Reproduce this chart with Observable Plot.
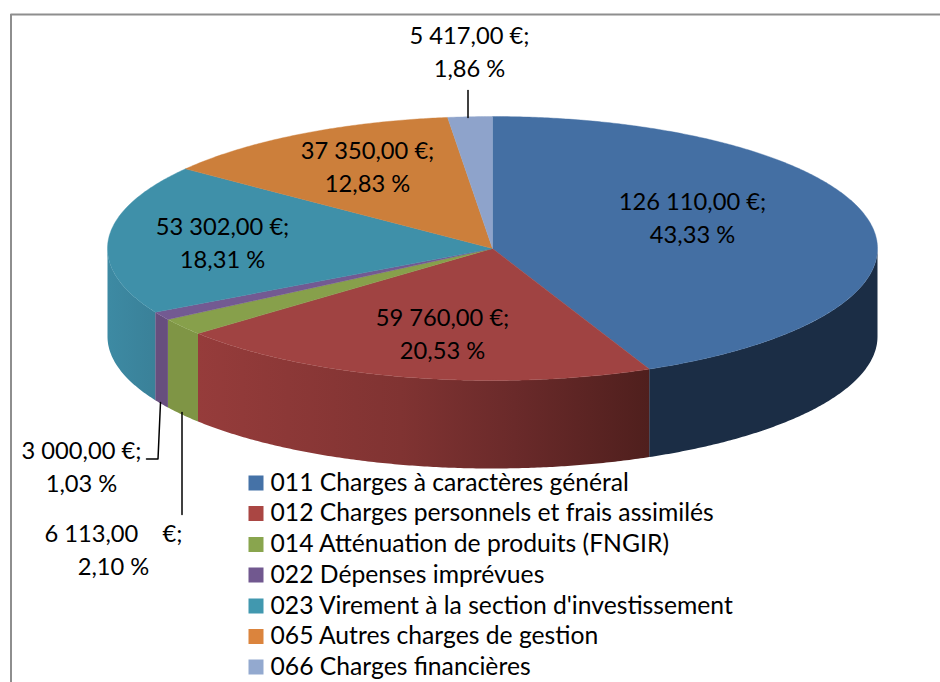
<!DOCTYPE html>
<html lang="fr">
<head>
<meta charset="utf-8">
<script src="https://cdn.jsdelivr.net/npm/d3@7"></script>
<script src="https://cdn.jsdelivr.net/npm/@observablehq/plot@0.6"></script>
<style>
  html, body { margin: 0; padding: 0; background: #fff; overflow: hidden; }
  svg { display: block; }
</style>
</head>
<body>
<div id="chart"></div>
<script>
const categories = [
  "011 Charges à caractères général",
  "012 Charges personnels et frais assimilés",
  "014 Atténuation de produits (FNGIR)",
  "022 Dépenses imprévues",
  "023 Virement à la section d'investissement",
  "065 Autres charges de gestion",
  "066 Charges financières"
];
const values = [126110, 59760, 6113, 3000, 53302, 37350, 5417];
const valueLabels = ["126 110,00 €;", "59 760,00 €;", "6 113,00    €;", "3 000,00 €;", "53 302,00 €;", "37 350,00 €;", "5 417,00 €;"];
const percentLabels = ["43,33 %", "20,53 %", "2,10 %", "1,03 %", "18,31 %", "12,83 %", "1,86 %"];

// Styling and layout, separate from the data
const topColors = ["#446FA3", "#A04342", "#87A04B", "#735A92", "#3F90A9", "#CC7F3B", "#8EA3CB"];
const swatchColors = ["#4572A7", "#AA4643", "#89A54E", "#71588F", "#4198AF", "#DB843D", "#93A9CF"];
const wallFills = ["#1B2D45", "url(#redWall)", "#7F9545", "#674E7E", "url(#tealWall)", "#A8672F", "#7485A6"];
const labelX = [692, 442, 113, 81, 222, 367, 469];
const labelY = [215.5, 331.5, 547, 464, 240, 164.5, 49];
const legendY = [482.5, 513, 544, 574.5, 605.5, 636, 666.5];
const swatchY = [483, 513.5, 544.5, 575, 606, 636.5, 667];
const cx = 492, cy = 248, rx = 385, ry = 132, depth = 88;
const FONT = "Lato, Carlito, sans-serif";
const LABEL_FS = 23.7, LEGEND_FS = 24.7;

const arcs = d3.pie().sort(null).value(d => d)(values);
const pt = (a, dy = 0) => ({x: cx + rx * Math.sin(a), y: cy - ry * Math.cos(a) + dy});
const sample = (a0, a1) => {
  const n = Math.max(2, Math.ceil((a1 - a0) / 0.008));
  return d3.range(n + 1).map(i => a0 + (a1 - a0) * i / n);
};
const topFace = arcs.map(s => [{x: cx, y: cy}, ...sample(s.startAngle, s.endAngle).map(a => pt(a)), {x: cx, y: cy}]);
const walls = arcs.map(s => {
  const a0 = Math.max(s.startAngle, Math.PI / 2), a1 = Math.min(s.endAngle, 3 * Math.PI / 2);
  if (a1 <= a0) return null;
  const as = sample(a0, a1);
  const poly = [...as.map(a => pt(a)), ...as.slice().reverse().map(a => pt(a, depth))];
  poly.push(poly[0]);
  return poly;
});

const defs = () => {
  const el = document.createElementNS("http://www.w3.org/2000/svg", "defs");
  el.innerHTML = `
    <linearGradient id="redWall" gradientUnits="userSpaceOnUse" x1="197" x2="650" y1="0" y2="0">
      <stop offset="0" stop-color="#963C3B"/><stop offset="0.2" stop-color="#8C3837"/>
      <stop offset="0.45" stop-color="#803332"/><stop offset="0.7" stop-color="#6A2A2A"/>
      <stop offset="1" stop-color="#4F1F1D"/>
    </linearGradient>
    <linearGradient id="tealWall" gradientUnits="userSpaceOnUse" x1="107" x2="153" y1="0" y2="0">
      <stop offset="0" stop-color="#3D8AA3"/><stop offset="1" stop-color="#3A8199"/>
    </linearGradient>`;
  return el;
};

const labelRows = values.map((v, i) => ({text: valueLabels[i] + "\n" + percentLabels[i], x: labelX[i], y: labelY[i]}));
const legendRows = categories.map((c, i) => ({c, color: swatchColors[i], y: legendY[i], sy: swatchY[i]}));

const chart = Plot.plot({
  width: 940, height: 682,
  marginTop: 0, marginRight: 0, marginBottom: 0, marginLeft: 0,
  x: {domain: [0, 940], range: [0, 940], axis: null},
  y: {domain: [0, 682], range: [0, 682], axis: null},
  marks: [
    defs,
    Plot.line([{x: 10.5, y: 682}, {x: 10.5, y: 14}, {x: 940, y: 14}], {x: "x", y: "y", stroke: "#8E8E8E", strokeWidth: 2, curve: "linear"}),
    ...walls.flatMap((w, i) => w ? [Plot.line(w, {x: "x", y: "y", fill: wallFills[i], stroke: "none", curve: "linear"})] : []),
    ...topFace.map((f, i) => Plot.line(f, {x: "x", y: "y", fill: topColors[i], stroke: topColors[i], strokeWidth: 0.4, curve: "linear"})),
    Plot.line([{x: 467.5, y: 90}, {x: 467.5, y: 117}], {x: "x", y: "y", stroke: "#000", strokeWidth: 1.5}),
    Plot.line([{x: 146, y: 458.5}, {x: 157.5, y: 458.5}, {x: 160, y: 402}], {x: "x", y: "y", stroke: "#000", strokeWidth: 1.5, curve: "linear"}),
    Plot.line([{x: 181.5, y: 412}, {x: 181.5, y: 514}], {x: "x", y: "y", stroke: "#000", strokeWidth: 1.5}),
    Plot.text(labelRows, {x: "x", y: "y", text: "text", fontFamily: FONT, fontSize: LABEL_FS, fill: "#000", lineHeight: 1.39}),
    Plot.rect(legendRows, {x1: () => 248.5, x2: () => 263.5, y1: d => d.sy - 7.5, y2: d => d.sy + 7.5, fill: "color"}),
    Plot.text(legendRows, {x: () => 270, y: "y", text: "c", textAnchor: "start", fontFamily: FONT, fontSize: LEGEND_FS, fill: "#000"})
  ]
});
document.getElementById("chart").append(chart);
</script>
</body>
</html>
